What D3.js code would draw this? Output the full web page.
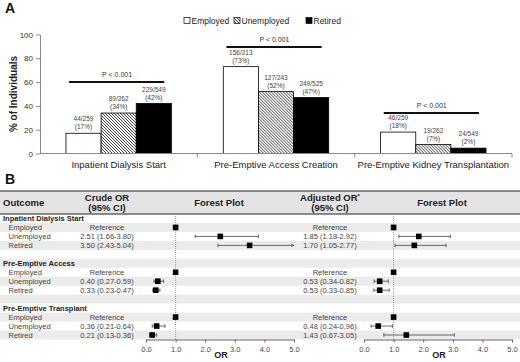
<!DOCTYPE html>
<html>
<head>
<meta charset="utf-8">
<script src="https://cdn.jsdelivr.net/npm/d3@7"></script>
<style>
  body { margin: 0; background: #fff; }
  svg { display: block; font-family: "Liberation Sans", Arial, sans-serif; }
</style>
</head>
<body>
<div id="chart"></div>
<script>
// ---- panel A data ----
const categories = ["Inpatient Dialysis Start", "Pre-Emptive Access Creation", "Pre-Emptive Kidney Transplantation"];
const statuses = ["Employed", "Unemployed", "Retired"];
const barPct = {
    Employed:   [17, 73, 18],
    Unemployed: [34, 52, 7.5],
    Retired:    [42, 47, 4.5]
};
const barCounts = {
    Employed:   ["44/259", "156/213", "46/259"],
    Unemployed: ["89/262", "127/243", "19/262"],
    Retired:    ["229/549", "249/525", "24/549"]
};
const barPctLabels = {
    Employed:   ["(17%)", "(73%)", "(18%)"],
    Unemployed: ["(34%)", "(52%)", "(7%)"],
    Retired:    ["(42%)", "(47%)", "(2%)"]
};
const pLabels = ["P < 0.001", "P < 0.001", "P < 0.001"];
const pLevels = [60, 89.5, 34];
const yTicks = [0, 20, 40, 60, 80, 100];

// ---- panel B data ----
const outcomeGroups = ["Inpatient Dialysis Start", "Pre-Emptive Access", "Pre-Emptive Transplant"];
const crudeOR = [[1, 2.51, 3.50], [1, 0.40, 0.33], [1, 0.36, 0.21]];
const crudeLo = [[null, 1.66, 2.43], [null, 0.27, 0.23], [null, 0.21, 0.13]];
const crudeHi = [[null, 3.80, 5.04], [null, 0.59, 0.47], [null, 0.64, 0.36]];
const adjOR = [[1, 1.85, 1.70], [1, 0.53, 0.53], [1, 0.48, 1.43]];
const adjLo = [[null, 1.18, 1.05], [null, 0.34, 0.33], [null, 0.24, 0.67]];
const adjHi = [[null, 2.92, 2.77], [null, 0.82, 0.85], [null, 0.96, 3.05]];
const orTicks = [0, 1, 2, 3, 4, 5];

const W = 520, H = 362;
const svg = d3.select("#chart").append("svg")
    .attr("width", W).attr("height", H);

svg.append("rect").attr("width", W).attr("height", H).attr("fill", "#fff");

const defs = svg.append("defs");
const pat = defs.append("pattern")
    .attr("id", "hatch")
    .attr("patternUnits", "userSpaceOnUse")
    .attr("width", 3).attr("height", 3);
pat.append("rect").attr("width", 3).attr("height", 3).attr("fill", "#fff");
pat.append("path")
    .attr("d", "M0,0L3,3M-1,2L1,4M2,-1L4,1")
    .attr("stroke", "#111").attr("stroke-width", 0.8);

defs.append("marker")
    .attr("id", "arrow")
    .attr("viewBox", "0 0 6 6")
    .attr("refX", 5).attr("refY", 3)
    .attr("markerWidth", 5).attr("markerHeight", 5)
    .attr("orient", "auto")
    .append("path")
    .attr("d", "M0,0.5L5,3L0,5.5")
    .attr("fill", "none").attr("stroke", "#444").attr("stroke-width", 0.9);

/* ============ Panel A ============ */
svg.append("text").attr("x", 5).attr("y", 13)
    .attr("font-size", 14).attr("font-weight", "bold").attr("fill", "#111").text("A");

const x0 = d3.scaleBand().domain(categories).range([40, 512]);
const bw = x0.bandwidth();
const x1 = d3.scaleBand().domain(statuses).range([bw * 0.165, bw * 0.835]);
const y = d3.scaleLinear().domain([0, 100]).range([153.5, 34.5]);

const fills = { Employed: "#fff", Unemployed: "url(#hatch)", Retired: "#000" };

// y axis
const yAxis = svg.append("g")
    .attr("transform", "translate(40,0)")
    .call(d3.axisLeft(y).tickValues(yTicks).tickSize(4).tickSizeOuter(0));
yAxis.select(".domain").attr("stroke", "#888");
yAxis.selectAll(".tick line").attr("stroke", "#888");
yAxis.selectAll(".tick text").attr("font-size", 8).attr("fill", "#333")
    .attr("font-family", "Liberation Sans, Arial, sans-serif");

svg.append("text")
    .attr("transform", "translate(17,94) rotate(-90)")
    .attr("text-anchor", "middle")
    .attr("font-size", 10).attr("font-weight", "bold").attr("fill", "#222")
    .text("% of Individuals");

// bars
const groups = svg.selectAll("g.cat")
    .data(categories)
    .join("g")
    .attr("class", "cat")
    .attr("transform", d => `translate(${x0(d)},0)`);

const barData = (d, i) => statuses.map(s => ({ s, v: barPct[s][i], i }));

groups.selectAll("rect")
    .data(barData)
    .join("rect")
    .attr("x", d => x1(d.s))
    .attr("y", d => y(d.v))
    .attr("width", x1.bandwidth())
    .attr("height", d => y(0) - y(d.v))
    .attr("fill", d => fills[d.s])
    .attr("stroke", "#000")
    .attr("stroke-width", 0.8);

groups.selectAll("text.cnt")
    .data(barData)
    .join("text")
    .attr("class", "cnt")
    .attr("x", d => x1(d.s) + x1.bandwidth() / 2)
    .attr("y", d => y(d.v) - 12)
    .attr("text-anchor", "middle")
    .attr("font-size", 6.5).attr("fill", "#444")
    .text(d => barCounts[d.s][d.i]);

groups.selectAll("text.pct")
    .data(barData)
    .join("text")
    .attr("class", "pct")
    .attr("x", d => x1(d.s) + x1.bandwidth() / 2)
    .attr("y", d => y(d.v) - 4)
    .attr("text-anchor", "middle")
    .attr("font-size", 6.5).attr("fill", "#444")
    .text(d => barPctLabels[d.s][d.i]);

// p-value lines
groups.append("line")
    .attr("x1", bw * 0.185).attr("x2", bw * 0.79)
    .attr("y1", (d, i) => y(pLevels[i])).attr("y2", (d, i) => y(pLevels[i]))
    .attr("stroke", "#111").attr("stroke-width", 2);

groups.append("text")
    .attr("x", bw * 0.49)
    .attr("y", (d, i) => y(pLevels[i]) - 5)
    .attr("text-anchor", "middle")
    .attr("font-size", 7).attr("fill", "#333")
    .text((d, i) => pLabels[i]);

// x axis
svg.append("line")
    .attr("x1", 40).attr("x2", 512)
    .attr("y1", y(0)).attr("y2", y(0))
    .attr("stroke", "#888");
svg.selectAll("line.ctick")
    .data(categories)
    .join("line")
    .attr("class", "ctick")
    .attr("x1", d => x0(d) + bw).attr("x2", d => x0(d) + bw)
    .attr("y1", y(0)).attr("y2", y(0) + 4)
    .attr("stroke", "#888");

groups.append("text")
    .attr("x", bw / 2).attr("y", 168)
    .attr("text-anchor", "middle")
    .attr("font-size", 9.5).attr("fill", "#222")
    .text(d => d);

// legend
const legend = svg.append("g").attr("transform", "translate(184,21)");
const legX = [0, 50, 122];
statuses.forEach((s, i) => {
    const g = legend.append("g").attr("transform", `translate(${legX[i]},0)`);
    g.append("rect").attr("x", 0).attr("y", -3.5).attr("width", 6).attr("height", 6)
        .attr("fill", fills[s]).attr("stroke", "#000").attr("stroke-width", 0.7);
    g.append("text").attr("x", 7.5).attr("y", 3)
        .attr("font-size", 8.5).attr("fill", "#222").text(s);
});

/* ============ Panel B ============ */
svg.append("text").attr("x", 5).attr("y", 184)
    .attr("font-size", 14).attr("font-weight", "bold").attr("fill", "#111").text("B");

// rows
const rows = [];
outcomeGroups.forEach((g, gi) => {
    rows.push({ type: "head", label: g });
    statuses.forEach((s, si) => {
        rows.push({
            type: "item", label: s,
            cOR: crudeOR[gi][si], cLo: crudeLo[gi][si], cHi: crudeHi[gi][si],
            aOR: adjOR[gi][si], aLo: adjLo[gi][si], aHi: adjHi[gi][si]
        });
    });
    if (gi < outcomeGroups.length - 1) rows.push({ type: "blank" });
});

const tableTop = 214, tableBottom = 339.5;
const ry = d3.scaleBand().domain(d3.range(rows.length)).range([tableTop, tableBottom]);
const rh = ry.bandwidth();

// header
svg.append("rect").attr("x", 0).attr("y", 191).attr("width", W).attr("height", tableTop - 191)
    .attr("fill", "#e4e4e4");
svg.append("line").attr("x1", 0).attr("x2", W).attr("y1", 191).attr("y2", 191)
    .attr("stroke", "#666").attr("stroke-width", 1.5);

// stripes
svg.selectAll("rect.stripe")
    .data(rows.map((r, i) => i).filter(i => i % 2 === 1))
    .join("rect")
    .attr("class", "stripe")
    .attr("x", 0).attr("width", W)
    .attr("y", i => ry(i)).attr("height", rh)
    .attr("fill", "#ebebeb");

svg.append("line").attr("x1", 0).attr("x2", W).attr("y1", tableTop).attr("y2", tableTop)
    .attr("stroke", "#666").attr("stroke-width", 1.5);

const hdr = svg.append("g").attr("font-size", 9.5).attr("font-weight", "bold").attr("fill", "#222")
    .attr("text-anchor", "middle");
hdr.append("text").attr("x", 3).attr("y", 206).attr("text-anchor", "start").text("Outcome");
hdr.append("text").attr("x", 107).attr("y", 201).text("Crude OR");
hdr.append("text").attr("x", 107).attr("y", 211).text("(95% CI)");
hdr.append("text").attr("x", 219).attr("y", 206).text("Forest Plot");
const adjT = hdr.append("text").attr("x", 330).attr("y", 201);
adjT.append("tspan").text("Adjusted OR");
adjT.append("tspan").attr("font-size", 6).attr("dy", -3).text("*");
hdr.append("text").attr("x", 330).attr("y", 211).text("(95% CI)");
hdr.append("text").attr("x", 442).attr("y", 206).text("Forest Plot");

// row labels
const fmt = d3.format(".2f");
const rowG = svg.selectAll("g.row")
    .data(rows)
    .join("g")
    .attr("class", "row")
    .attr("transform", (d, i) => `translate(0,${ry(i) + rh / 2 + 2.6})`);

rowG.filter(d => d.type === "head").append("text")
    .attr("x", 3).attr("font-size", 7.5).attr("font-weight", "bold").attr("fill", "#222")
    .text(d => d.label);
const items = rowG.filter(d => d.type === "item");
items.append("text")
    .attr("x", 8.5).attr("font-size", 7.5).attr("fill", "#444")
    .text(d => d.label);
items.append("text")
    .attr("x", 107).attr("text-anchor", "middle").attr("font-size", 7.5).attr("fill", "#444")
    .text(d => d.cLo == null ? "Reference" : `${fmt(d.cOR)} (${fmt(d.cLo)}-${fmt(d.cHi)})`);
items.append("text")
    .attr("x", 330).attr("text-anchor", "middle").attr("font-size", 7.5).attr("fill", "#444")
    .text(d => d.aLo == null ? "Reference" : `${fmt(d.aOR)} (${fmt(d.aLo)}-${fmt(d.aHi)})`);

// forest plots
function forest(xs, orKey, loKey, hiKey) {
    const g = svg.append("g");
    const ax = g.append("g")
        .attr("transform", `translate(0,${tableBottom})`)
        .call(d3.axisBottom(xs).tickValues(orTicks).tickFormat(d3.format(".1f")).tickSize(3).tickSizeOuter(0));
    ax.select(".domain").attr("stroke", "#666");
    ax.selectAll(".tick line").attr("stroke", "#666");
    ax.selectAll(".tick text").attr("font-size", 7.5).attr("fill", "#444")
        .attr("font-family", "Liberation Sans, Arial, sans-serif").attr("dy", "0.9em");

    g.append("text")
        .attr("x", (xs.range()[0] + xs.range()[1]) / 2 + 1).attr("y", 358)
        .attr("text-anchor", "middle").attr("font-size", 9).attr("font-weight", "bold").attr("fill", "#222")
        .text("OR");

    g.append("line")
        .attr("x1", xs(1)).attr("x2", xs(1))
        .attr("y1", tableTop).attr("y2", tableBottom)
        .attr("stroke", "#888").attr("stroke-width", 0.8).attr("stroke-dasharray", "1,1");

    const maxOR = xs.domain()[1];
    const pts = rows.map((r, i) => ({ r, i })).filter(d => d.r.type === "item");
    const cy = d => ry(d.i) + rh / 2;
    const ci = pts.filter(d => d.r[loKey] != null);

    g.selectAll("line.ci")
        .data(ci)
        .join("line")
        .attr("class", "ci")
        .attr("x1", d => xs(d.r[loKey]))
        .attr("x2", d => xs(Math.min(d.r[hiKey], maxOR)))
        .attr("y1", cy).attr("y2", cy)
        .attr("stroke", "#444").attr("stroke-width", 0.8)
        .attr("marker-end", d => d.r[hiKey] > maxOR ? "url(#arrow)" : null);
    g.selectAll("line.capLo")
        .data(ci)
        .join("line")
        .attr("class", "capLo")
        .attr("x1", d => xs(d.r[loKey])).attr("x2", d => xs(d.r[loKey]))
        .attr("y1", d => cy(d) - 1.8).attr("y2", d => cy(d) + 1.8)
        .attr("stroke", "#444").attr("stroke-width", 0.8);
    g.selectAll("line.capHi")
        .data(ci.filter(d => d.r[hiKey] <= maxOR))
        .join("line")
        .attr("class", "capHi")
        .attr("x1", d => xs(d.r[hiKey])).attr("x2", d => xs(d.r[hiKey]))
        .attr("y1", d => cy(d) - 1.8).attr("y2", d => cy(d) + 1.8)
        .attr("stroke", "#444").attr("stroke-width", 0.8);

    g.selectAll("rect.pt")
        .data(pts)
        .join("rect")
        .attr("class", "pt")
        .attr("x", d => xs(d.r[orKey]) - 2.8)
        .attr("y", d => cy(d) - 2.8)
        .attr("width", 5.6).attr("height", 5.6)
        .attr("fill", "#000");
}

forest(d3.scaleLinear().domain([0, 5]).range([146, 294]), "cOR", "cLo", "cHi");
forest(d3.scaleLinear().domain([0, 5]).range([364, 512]), "aOR", "aLo", "aHi");
</script>
</body>
</html>
